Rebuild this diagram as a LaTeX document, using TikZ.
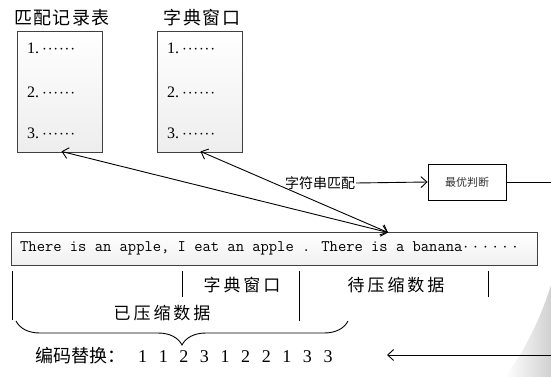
\documentclass[tikz,border=0pt]{standalone}
\usepackage{fontspec}
\setmainfont{Liberation Serif}
\newfontfamily\cjk{Noto Sans CJK SC}
\newfontfamily\cjkw[LetterSpace=17]{Noto Sans CJK SC}
\newfontfamily\cjkt[LetterSpace=8]{Noto Sans CJK SC}
\usetikzlibrary{arrows.meta,decorations.pathreplacing,calc}
\definecolor{edge}{HTML}{404040}
\tikzset{
  listbox/.style={draw=edge, line width=0.9pt, top color=white, bottom color=black!7, minimum width=85pt, minimum height=121pt},
  title/.style={font=\cjkt\fontsize{18}{20}\selectfont, inner sep=0pt},
  item/.style={font=\fontsize{16}{18}\selectfont, anchor=west, inner sep=0pt},
  lbl/.style={font=\cjkw\fontsize{17}{19}\selectfont, inner sep=0pt},
  arr/.style={line width=0.9pt, -{Straight Barb[length=6pt,width=11pt,line width=0.9pt]}},
  dblarr/.style={line width=0.9pt, {Straight Barb[length=6pt,width=11pt,line width=0.9pt]}-{Straight Barb[length=6pt,width=11pt,line width=0.9pt]}},
  tick/.style={line width=1pt}
}
\newcommand\dg[1]{\makebox[20.6pt][l]{#1}}
\newcommand\sixdots[1]{\makebox[#1][s]{$\cdot$\hfill$\cdot$\hfill$\cdot$\hfill$\cdot$\hfill$\cdot$\hfill$\cdot$}}
\begin{document}
\begin{tikzpicture}[x=1pt,y=-1pt]
\useasboundingbox (0,0) rectangle (551,377);
% faint background blob
\shade[left color=white, right color=black!18, draw=none] (551,285) .. controls (540,320) and (525,350) .. (505,377) -- (551,377) -- cycle;
% list boxes
\node[title] (t1) at (62,18) {匹配记录表};
\node[listbox] (box1) at (59.5,91.5) {};
\node[item] (a1) at (27,48) {1.\hspace{3pt}\sixdots{33pt}};
\node[item] (a2) at (27,92) {2.\hspace{3pt}\sixdots{33pt}};
\node[item] (a3) at (27,133) {3.\hspace{3pt}\sixdots{33pt}};
\node[title] (t2) at (202,18) {字典窗口};
\node[listbox] (box2) at (199.5,91.5) {};
\node[item] (b1) at (167,48) {1.\hspace{3pt}\sixdots{33pt}};
\node[item] (b2) at (167,92) {2.\hspace{3pt}\sixdots{33pt}};
\node[item] (b3) at (167,133) {3.\hspace{3pt}\sixdots{33pt}};
% data bar
\node[draw=edge, line width=0.9pt, top color=white, bottom color=black!6, minimum width=526pt, minimum height=33pt, inner sep=0pt] (bar) at (274,248.5) {};
\node[font=\ttfamily\fontsize{16.1}{17}\selectfont, anchor=west, inner sep=0pt] (txt) at (20,248.5) {There is an apple, I eat an apple . There is a banana\hspace{1pt}\sixdots{54pt}};
\coordinate (m) at (388,232.5);
\draw[dblarr] ($(box1.south)+(2,-1)$) -- (m);
\draw[dblarr] ($(box2.south)+(1,-1)$) -- (m);
% matching & best
\node[font=\cjk\fontsize{14}{16}\selectfont, inner sep=1pt] (mt) at (320,183) {字符串匹配};
\node[draw=black, line width=0.9pt, minimum width=78pt, minimum height=36pt, font=\cjk\fontsize{11}{13}\selectfont, text=black!80] (best) at (467,182) {最优判断};
\draw[arr] (mt.east) -- (best.west);
\coordinate (r1) at (551,182);
\draw[line width=0.9pt] (best.east) -- (r1);
% ticks
\coordinate (v1a) at (12,271); \coordinate (v1b) at (12,320);
\coordinate (v2a) at (182,271); \coordinate (v2b) at (182,297);
\coordinate (v3a) at (299,271); \coordinate (v3b) at (299,321);
\coordinate (v4a) at (488,271); \coordinate (v4b) at (488,297);
\draw[tick] (v1a) -- (v1b);
\draw[tick] (v2a) -- (v2b);
\draw[tick] (v3a) -- (v3b);
\draw[tick] (v4a) -- (v4b);
\node[lbl] (dw) at (242,285) {字典窗口};
\node[lbl] (tc) at (396,285) {待压缩数据};
\node[lbl] (yc) at (162,313) {已压缩数据};
% brace
\coordinate (br1) at (16,321);
\coordinate (br2) at (348,321);
\draw[line width=0.9pt, decorate, decoration={brace, mirror, amplitude=24pt}] (br1) -- (br2);
% code
\node[font=\fontsize{18}{20}\selectfont, anchor=west, inner sep=0pt] (code) at (35,356) {{\cjk 编码替换：}\hspace{13pt}\dg{1}\dg{1}\dg{2}\dg{3}\dg{1}\dg{2}\dg{2}\dg{1}\dg{3}3};
\coordinate (r2) at (551,355);
\draw[arr] (r2) -- (387,355);
\end{tikzpicture}
\end{document}
